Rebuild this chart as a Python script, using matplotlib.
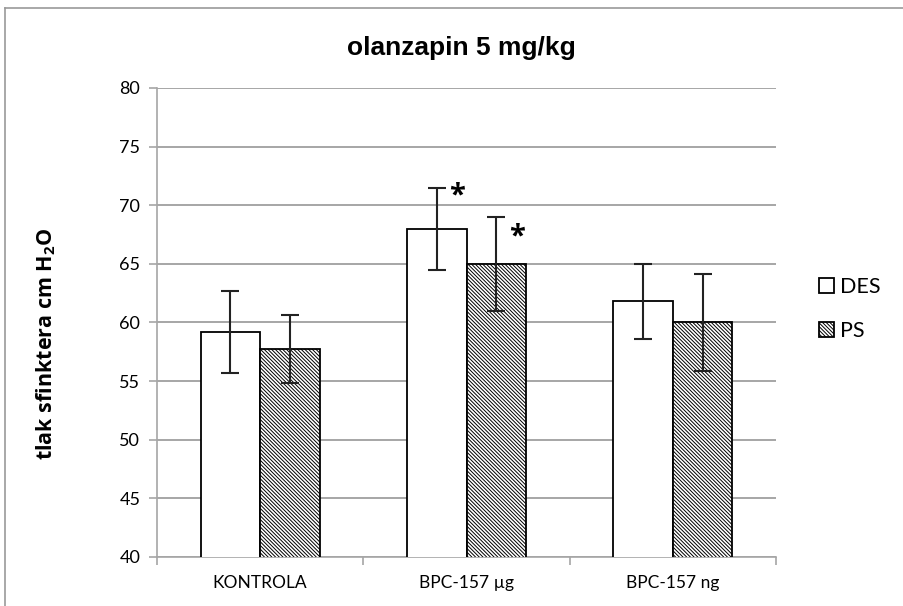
import numpy as np
import matplotlib
matplotlib.use("Agg")
import matplotlib.pyplot as plt
from matplotlib.lines import Line2D

categories = ["KONTROLA", "BPC-157 µg", "BPC-157 ng"]
des_values = [59.2, 68.0, 61.8]
des_err = [3.5, 3.5, 3.2]
ps_values = [57.7, 65.0, 60.0]
ps_err = [2.9, 4.0, 4.1]
significant_des = [False, True, False]
significant_ps = [False, True, False]

plt.rcParams["font.family"] = ["Lato", "DejaVu Sans"]
plt.rcParams["mathtext.fontset"] = "custom"
plt.rcParams["mathtext.rm"] = "Open Sans"
plt.rcParams["mathtext.bf"] = "Open Sans:bold"
plt.rcParams["hatch.linewidth"] = 0.7

fig = plt.figure(figsize=(9.04, 6.06), dpi=100)
ax = fig.add_axes([0.1737, 0.0809, 0.8584 - 0.1737, 0.8548 - 0.0809])

x = np.arange(len(categories))
w = 0.289
grid_c = "#a6a6a6"

ax.bar(x - w / 2, des_values, w, color="white", edgecolor="black",
       linewidth=1.3, label="DES", zorder=3)
ax.bar(x + w / 2, ps_values, w, color="white", edgecolor="black", hatch="\\" * 9,
       linewidth=1.3, label="PS", zorder=3)
ax.errorbar(x - w / 2, des_values, yerr=des_err, fmt="none", ecolor="#222222",
            elinewidth=1.5, capsize=6.5, capthick=1.5, zorder=4)
ax.errorbar(x + w / 2, ps_values, yerr=ps_err, fmt="none", ecolor="#222222",
            elinewidth=1.5, capsize=6.5, capthick=1.5, zorder=4)

# significance stars
for i in range(len(categories)):
    if significant_des[i]:
        ax.text(x[i] - w / 2 + 0.1, des_values[i] + 2.8, "*", fontsize=21,
                fontweight="bold", family="Open Sans", ha="center", va="center", zorder=5)
    if significant_ps[i]:
        ax.text(x[i] + w / 2 + 0.1, ps_values[i] + 2.3, "*", fontsize=21,
                fontweight="bold", family="Open Sans", ha="center", va="center", zorder=5)

ax.set_xlim(-0.5, 2.5)
ax.set_ylim(40, 80)
ax.set_yticks(np.arange(40, 81, 5))
ax.yaxis.grid(True, color=grid_c, linewidth=1.4, zorder=0)
ax.set_axisbelow(True)

ax.set_xticks(x)
ax.set_xticklabels(categories, fontsize=12.5)
ax.set_xticks([-0.5, 0.5, 1.5, 2.5], minor=True)
ax.tick_params(axis="x", which="major", length=0, pad=13)
ax.tick_params(axis="x", which="minor", length=6, color=grid_c, width=1.2)
ax.tick_params(axis="y", length=6, color=grid_c, width=1.2, labelsize=13, pad=6)

for s in ["top", "right"]:
    ax.spines[s].set_visible(False)
for s in ["left", "bottom"]:
    ax.spines[s].set_color(grid_c)
    ax.spines[s].set_linewidth(1.2)

ax.set_ylabel(r"tlak sfinktera cm $\mathbf{H_2O}$", fontsize=15.5, fontweight="bold",
              family="Open Sans")
ax.yaxis.set_label_coords(-0.16, 0.455)

fig.text(0.51, 0.921, "olanzapin 5 mg/kg", fontsize=19, fontweight="bold",
         family="Liberation Sans", ha="center", va="center")

leg = fig.legend(loc="center left", bbox_to_anchor=(0.885, 0.49), frameon=False,
                 fontsize=15.5, handlelength=0.7, handleheight=0.7,
                 handletextpad=0.25, labelspacing=1.1)

# outer chart frame
fig.add_artist(Line2D([5 / 904, 5 / 904], [0, 1 - 8 / 606], color="#999999",
                      linewidth=1.2, transform=fig.transFigure))
fig.add_artist(Line2D([5 / 904, 1], [1 - 8 / 606, 1 - 8 / 606], color="#999999",
                      linewidth=1.2, transform=fig.transFigure))

fig.savefig("out.png", dpi=100)
